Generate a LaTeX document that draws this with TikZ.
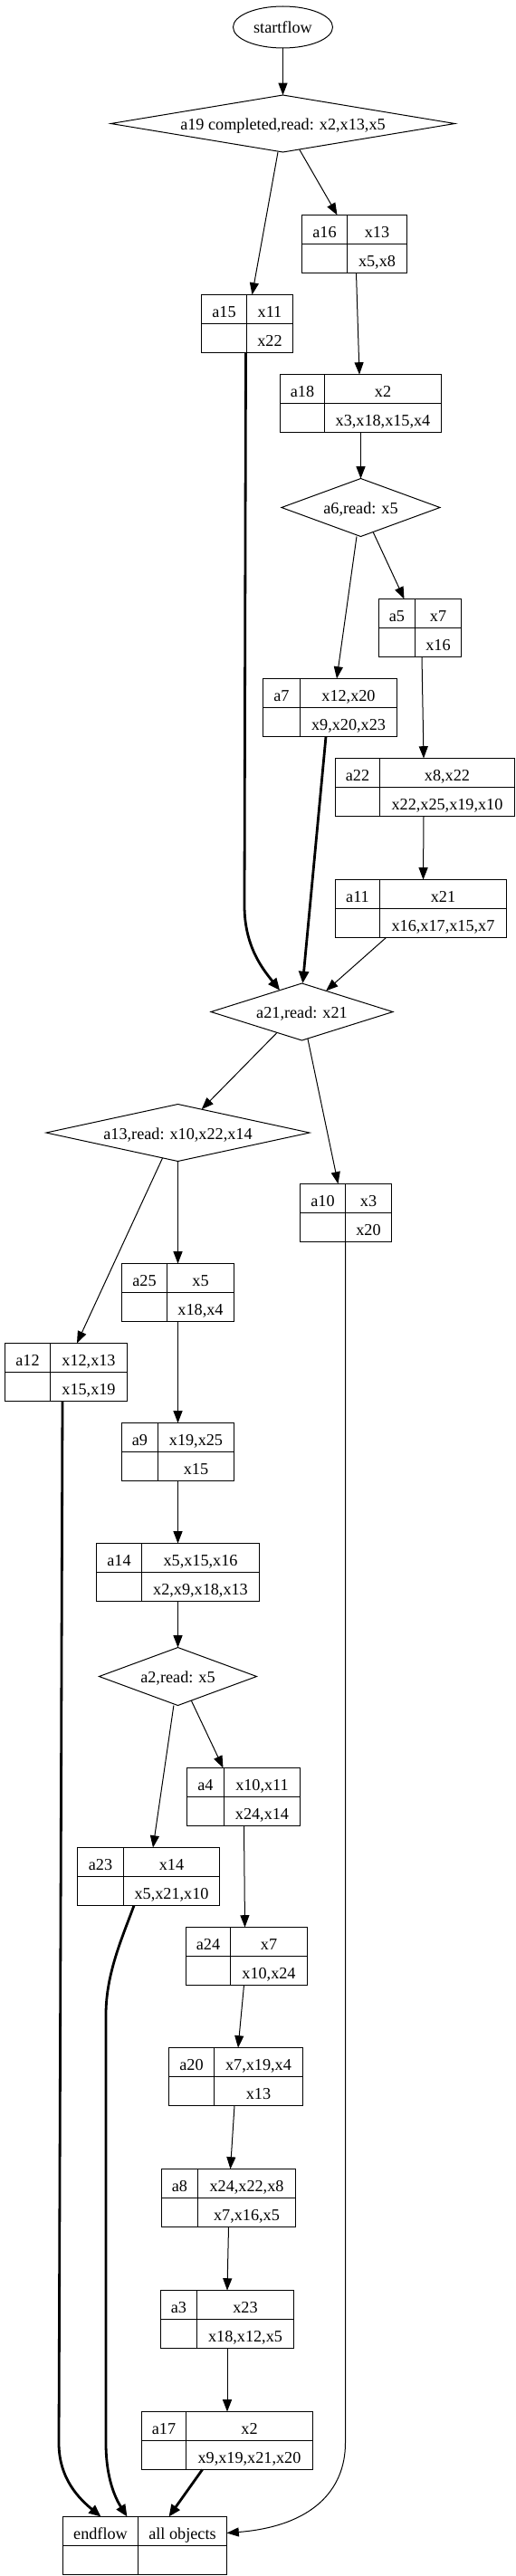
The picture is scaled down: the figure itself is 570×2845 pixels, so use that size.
\documentclass[tikz,border=0pt]{standalone}
\usepackage{fontspec}
\setmainfont{Liberation Serif}
\usetikzlibrary{arrows.meta,shapes.geometric,calc}
\tikzset{
  rec/.style={draw, rectangle, minimum height=64pt, inner sep=0pt, outer sep=0pt, line width=1pt},
  cellline/.style={line width=1pt},
  celltext/.style={inner sep=0pt, text height=18pt, text depth=0pt, font=\fontsize{18.2pt}{22pt}\selectfont},
  dia/.style={draw, diamond, inner sep=0pt, outer sep=0pt, line width=1pt, text height=14pt, text depth=0pt, font=\fontsize{18.2pt}{22pt}\selectfont},
  oval/.style={draw, ellipse, inner sep=0pt, outer sep=0pt, line width=1pt, text height=14pt, text depth=0pt, font=\fontsize{18.2pt}{22pt}\selectfont},
  edge/.style={-{Triangle[length=13.3pt,width=10pt]}, line width=1pt},
  bedge/.style={-{Triangle[length=13.3pt,width=11pt]}, line width=2.8pt}
}
\newcommand{\recnode}[8]{%
  \node[rec, minimum width={(#4-#2)*1pt}, anchor=north west] (#1) at (#2,#5) {};
  \draw[cellline] (#3,#5) -- (#3,#5+64);
  \draw[cellline] (#2,#5+32) -- (#4,#5+32);
  \node[celltext] (#1-l) at ({(#2+#3)/2},{#5+16}) {#6};
  \node[celltext] (#1-t) at ({(#3+#4)/2},{#5+16}) {#7};
  \node[celltext] (#1-b) at ({(#3+#4)/2},{#5+48}) {#8};
}
\begin{document}
\begin{tikzpicture}[x=1pt,y=-1pt]
\fill[white] (0,0) rectangle (570,2845);
\useasboundingbox (0,0) rectangle (570,2845);

\node[oval, minimum width=110pt, minimum height=46pt] (startflow) at (312.5,30) {startflow};
\node[dia, minimum width=380pt, minimum height=63pt, aspect=6] (a19) at (312.5,136.5) {a19 completed,read: x2,x13,x5};
\recnode{a16}{333.5}{383.5}{449.5}{237.5}{a16}{x13}{x5,x8}
\recnode{a15}{222.5}{272.5}{323.5}{325.5}{a15}{x11}{x22}
\recnode{a18}{309.5}{358.5}{487.5}{413.5}{a18}{x2}{x3,x18,x15,x4}
\node[dia, minimum width=175pt, minimum height=64pt, aspect=2.74] (a6) at (398.5,560.5) {a6,read: x5};
\recnode{a5}{418.5}{458.5}{509.5}{661.5}{a5}{x7}{x16}
\recnode{a7}{290.5}{331.5}{438.5}{749.5}{a7}{x12,x20}{x9,x20,x23}
\recnode{a22}{370.5}{419.5}{568.5}{837.5}{a22}{x8,x22}{x22,x25,x19,x10}
\recnode{a11}{370.5}{419.5}{559.5}{971.5}{a11}{x21}{x16,x17,x15,x7}
\node[dia, minimum width=201pt, minimum height=63pt, aspect=3.18] (a21) at (333.5,1117.5) {a21,read: x21};
\node[dia, minimum width=291pt, minimum height=63pt, aspect=4.6] (a13) at (196.5,1251) {a13,read: x10,x22,x14};
\recnode{a10}{331.5}{381.5}{432.5}{1307.5}{a10}{x3}{x20}
\recnode{a25}{134.5}{184.5}{258.5}{1395.5}{a25}{x5}{x18,x4}
\recnode{a12}{5.5}{55.5}{140.5}{1483.5}{a12}{x12,x13}{x15,x19}
\recnode{a9}{134.5}{174.5}{258.5}{1571.5}{a9}{x19,x25}{x15}
\recnode{a14}{106.5}{156.5}{286.5}{1704.5}{a14}{x5,x15,x16}{x2,x9,x18,x13}
\node[dia, minimum width=174pt, minimum height=64pt, aspect=2.72] (a2) at (196.5,1851.5) {a2,read: x5};
\recnode{a4}{206.5}{247.5}{331.5}{1952.5}{a4}{x10,x11}{x24,x14}
\recnode{a23}{85.5}{136.5}{242.5}{2040.5}{a23}{x14}{x5,x21,x10}
\recnode{a24}{205.5}{254.5}{339.5}{2128.5}{a24}{x7}{x10,x24}
\recnode{a20}{186.5}{236.5}{334.5}{2261.5}{a20}{x7,x19,x4}{x13}
\recnode{a8}{178.5}{218.5}{326.5}{2395.5}{a8}{x24,x22,x8}{x7,x16,x5}
\recnode{a3}{177.5}{217.5}{324.5}{2529.5}{a3}{x23}{x18,x12,x5}
\recnode{a17}{156.5}{205.5}{345.5}{2663.5}{a17}{x2}{x9,x19,x21,x20}
\recnode{endflow}{69.5}{152.5}{250.5}{2779.5}{endflow}{all objects}{}

\draw[edge] (startflow.south) -- (a19.north);
\draw[edge] ([xshift=-5.5pt]a19.south) -- ([xshift=5.5pt]a15.north);
\draw[edge] ([xshift=18.2pt,yshift=3pt]a19.south) -- ([xshift=-19pt]a16.north);
\draw[edge] ([xshift=2pt]a16.south) -- ([xshift=-1.5pt]a18.north);
\draw[edge] (a18.south) -- (a6.north);
\draw[edge] ([xshift=-4.5pt]a6.south) -- ([xshift=7.5pt]a7.north);
\draw[edge] ([xshift=13.6pt,yshift=5pt]a6.south) -- ([xshift=-17.5pt]a5.north);
\draw[edge] ([xshift=2pt]a5.south) -- ([xshift=-1.5pt]a22.north);
\draw[edge] ([xshift=-1.5pt]a22.south) -- ([xshift=2.5pt]a11.north);
\draw[edge] ([xshift=56pt]a11.south west) -- ([xshift=26.6pt,yshift=-8.3pt]a21.north);
\draw[bedge] ([xshift=-1.5pt]a15.south) -- (270,1000) .. controls (270,1045) and (290,1070) .. ([xshift=-24.4pt,yshift=-7.7pt]a21.north);
\draw[bedge] ([xshift=-4.5pt]a7.south) -- ([xshift=0.9pt]a21.north);
\draw[edge] ([xshift=-27.4pt,yshift=8.6pt]a21.south) -- ([xshift=26.2pt,yshift=-5.7pt]a13.north);
\draw[edge] ([xshift=6.4pt,yshift=2pt]a21.south) -- ([xshift=-8.5pt]a10.north);
\draw[edge] ([xshift=-16.9pt,yshift=3.7pt]a13.south) -- ([xshift=12pt]a12.north);
\draw[edge] (a13.south) -- (a25.north);
\draw[edge] (a25.south) -- (a9.north);
\draw[edge] (a9.south) -- (a14.north);
\draw[edge] (a14.south) -- (a2.north);
\draw[edge] ([xshift=-4.6pt]a2.south) -- ([xshift=5pt]a23.north);
\draw[edge] ([xshift=14.8pt,yshift=5.4pt]a2.south) -- ([xshift=-22.5pt]a4.north);
\draw[edge] ([xshift=0.5pt]a4.south) -- ([xshift=-2pt]a24.north);
\draw[edge] ([xshift=-3pt]a24.south) -- ([xshift=2.5pt]a20.north);
\draw[edge] ([xshift=-1.5pt]a20.south) -- ([xshift=2pt]a8.north);
\draw[edge] (a8.south) -- (a3.north);
\draw[edge] (a3.south) -- (a17.north);
\draw[bedge] ([xshift=67pt]a17.south west) -- ([xshift=117pt]endflow.north west);
\draw[bedge] ([xshift=-4pt]a12.south) -- (65,2698) .. controls (65,2738) and (88,2760) .. ([xshift=42pt]endflow.north west);
\draw[bedge] ([xshift=62.5pt]a23.south west) .. controls (135,2140) and (117,2180) .. (117,2225) -- (117,2698) .. controls (117,2738) and (128,2760) .. ([xshift=71pt]endflow.north west);
\draw[edge] ([xshift=-0.5pt]a10.south) -- (381.5,2698) .. controls (381.5,2750) and (345,2790) .. ([yshift=-18pt]endflow.north east);
\end{tikzpicture}
\end{document}
